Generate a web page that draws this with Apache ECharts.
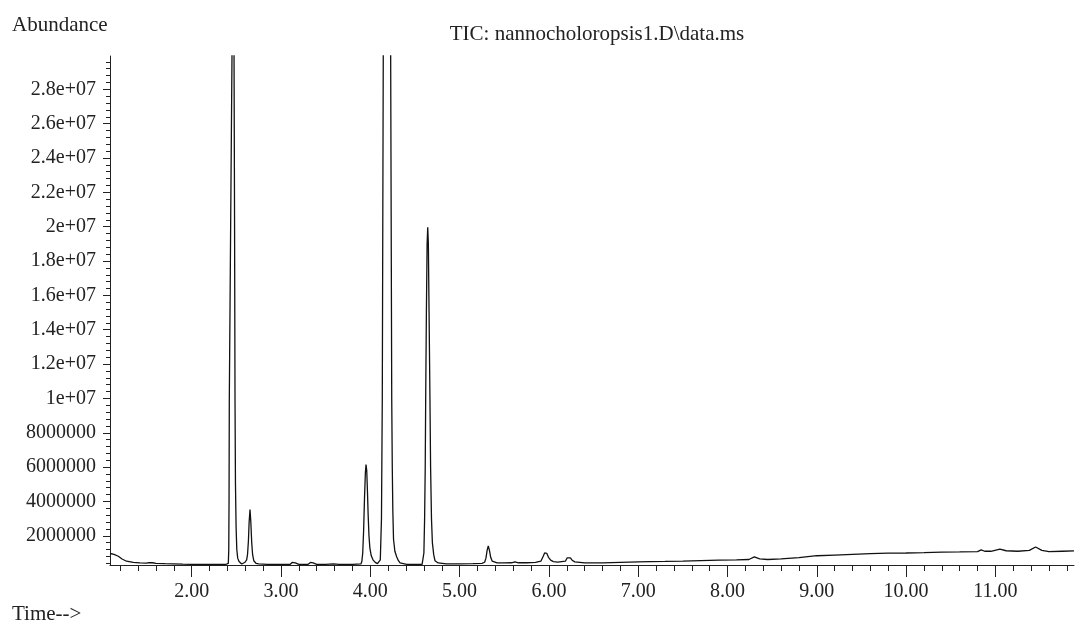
<!DOCTYPE html>
<html>
<head>
<meta charset="utf-8">
<script src="https://cdn.jsdelivr.net/npm/echarts@6/dist/echarts.min.js"></script>
<style>
html,body{margin:0;padding:0;background:#fff;}
#chart{width:1075px;height:624px;}
</style>
</head>
<body>
<div id="chart"></div>
<script>
// Retention time (min)
const times = [
 1.085,1.13,1.178,1.22,1.27,1.346,1.42,1.496,1.52,1.541,1.56,1.60,1.70,1.79,1.90,2.09,2.25,2.38,
 2.41,2.415,2.418,2.421,2.436,2.451,2.462,2.474,2.480,2.485,2.49,2.497,2.505,2.515,2.53,2.56,2.58,
 2.597,2.615,2.625,2.635,2.643,2.653,2.662,2.672,2.682,2.695,2.72,2.75,2.85,3.00,3.10,3.125,3.14,3.16,3.20,3.30,
 3.33,3.344,3.36,3.40,3.50,3.586,3.65,3.80,3.895,3.905,3.915,3.925,3.935,3.945,3.952,3.96,3.968,3.976,
 3.985,3.995,4.01,4.03,4.055,4.08,
 4.10,4.112,4.125,4.134,4.145,4.16,4.187,4.215,4.228,4.240,4.246,4.252,4.26,4.275,4.296,4.315,
 4.333,4.408,4.50,4.58,4.594,4.60,4.608,4.615,4.620,4.628,4.636,4.643,4.65,4.658,4.668,4.675,4.685,
 4.695,4.71,4.724,4.76,4.85,5.00,5.15,5.25,
 5.28,5.295,5.308,5.321,5.334,5.348,5.365,5.385,5.42,5.50,5.58,5.62,5.66,5.75,5.85,5.91,5.935,5.952,
 5.964,5.976,5.995,6.02,6.05,6.10,6.185,6.205,6.222,6.24,6.26,6.29,6.40,6.60,6.80,7.00,7.13,7.30,
 7.50,7.70,7.90,8.10,8.24,8.30,8.36,8.45,8.60,8.80,9.00,9.20,9.40,9.60,9.80,10.00,10.20,10.40,
 10.60,10.80,10.84,10.88,10.95,11.05,11.12,11.25,11.38,11.45,11.52,11.60,11.75,11.88
];
// Abundance, in millions of counts
const abundance = [
 0.97,0.92,0.81,0.65,0.52,0.45,0.42,0.41,0.44,0.48,0.43,0.40,0.38,0.37,0.35,0.33,0.33,0.33,
 0.40,1.2,4,9.9,20,29.9,38,29.9,20,9.9,5,2.5,1.2,0.7,0.5,0.36,0.36,
 0.46,0.6,0.9,1.7,2.8,3.53,2.8,1.6,0.9,0.55,0.40,0.36,0.34,0.33,0.33,0.45,0.52,0.42,0.34,0.33,
 0.45,0.52,0.42,0.34,0.34,0.37,0.34,0.34,0.36,0.5,1.0,2.3,4.2,5.7,6.15,5.8,4.6,3.2,
 2.0,1.3,0.85,0.6,0.45,0.38,
 0.36,0.6,3,9.9,29.9,60,100,60,29.9,9.9,6,3.5,1.8,1.1,0.77,0.55,
 0.42,0.34,0.33,0.34,0.45,1.0,3,6,9.9,15,19,19.96,19,15,9.9,6,3,
 1.6,0.9,0.55,0.42,0.36,0.36,0.38,0.40,
 0.46,0.7,1.15,1.41,1.15,0.75,0.52,0.45,0.42,0.42,0.43,0.48,0.43,0.43,0.45,0.52,0.8,1.0,
 1.05,0.98,0.75,0.58,0.5,0.47,0.52,0.72,0.81,0.72,0.58,0.48,0.42,0.42,0.45,0.48,0.5,0.51,
 0.53,0.56,0.58,0.6,0.62,0.77,0.66,0.62,0.66,0.73,0.84,0.88,0.92,0.96,0.99,1.0,1.02,1.05,
 1.06,1.08,1.18,1.10,1.10,1.22,1.13,1.1,1.15,1.35,1.15,1.08,1.10,1.12
];
// Axis ticks and labels
const xTickValues = [2,3,4,5,6,7,8,9,10,11];
const xTickLabels = ['2.00','3.00','4.00','5.00','6.00','7.00','8.00','9.00','10.00','11.00'];
const yTickValues = [2,4,6,8,10,12,14,16,18,20,22,24,26,28];
const yTickLabels = ['2000000','4000000','6000000','8000000','1e+07','1.2e+07','1.4e+07','1.6e+07',
  '1.8e+07','2e+07','2.2e+07','2.4e+07','2.6e+07','2.8e+07'];
const xMinorTicks = [];
for (let i = 6; i <= 59; i++) { if (i % 5 !== 0) xMinorTicks.push(+(i * 0.2).toFixed(1)); }
const yMinorTicks = [];
for (let i = 1; i <= 74; i++) { if (i % 5 !== 0) yMinorTicks.push(+(i * 0.4).toFixed(1)); }

const X_MIN = 1.085, X_MAX = 11.88, Y_MIN = 0.3, Y_MAX = 29.94;
const FONT = '"Liberation Serif", "DejaVu Serif", serif';

const chart = echarts.init(document.getElementById('chart'), null, {renderer: 'canvas'});
const lbl = (vals, labs) => v => { const i = vals.findIndex(t => Math.abs(t - v) < 1e-6); return i >= 0 ? labs[i] : ''; };

chart.setOption({
  animation: false,
  backgroundColor: '#fff',
  grid: {left: 110, right: 1, top: 56, bottom: 59, containLabel: false},
  graphic: [
    {type: 'text', left: 12, top: 15, style: {text: 'Abundance', font: '21px ' + FONT, fill: '#222'}},
    {type: 'text', left: 12, top: 604, style: {text: 'Time-->', font: '21px ' + FONT, fill: '#222'}},
    {type: 'text', x: 597, y: 34, style: {text: 'TIC: nannocholoropsis1.D\\data.ms', font: '21px ' + FONT, fill: '#222', align: 'center', verticalAlign: 'middle'}}
  ],
  xAxis: [{
    type: 'value', min: X_MIN, max: X_MAX, position: 'bottom',
    axisLine: {show: true, onZero: false, lineStyle: {color: '#222', width: 1}},
    axisTick: {show: true, customValues: xTickValues, length: 12, lineStyle: {color: '#222', width: 1}},
    axisLabel: {show: true, customValues: xTickValues, formatter: lbl(xTickValues, xTickLabels), margin: 17,
      color: '#222', fontFamily: FONT, fontSize: 20},
    splitLine: {show: false}
  }, {
    type: 'value', min: X_MIN, max: X_MAX, position: 'bottom', offset: 0,
    axisLine: {show: false},
    axisTick: {show: true, customValues: xMinorTicks, length: 6, lineStyle: {color: '#222', width: 1}},
    axisLabel: {show: false},
    splitLine: {show: false}
  }],
  yAxis: [{
    type: 'value', min: Y_MIN, max: Y_MAX, position: 'left',
    axisLine: {show: true, onZero: false, lineStyle: {color: '#222', width: 1}},
    axisTick: {show: true, customValues: yTickValues, length: 7, lineStyle: {color: '#222', width: 1}},
    axisLabel: {show: true, customValues: yTickValues, formatter: lbl(yTickValues, yTickLabels), margin: 14,
      color: '#222', fontFamily: FONT, fontSize: 20},
    splitLine: {show: false}
  }, {
    type: 'value', min: Y_MIN, max: Y_MAX, position: 'left', offset: 0,
    axisLine: {show: false},
    axisTick: {show: true, customValues: yMinorTicks, length: 4, lineStyle: {color: '#222', width: 1}},
    axisLabel: {show: false},
    splitLine: {show: false}
  }],
  series: [{
    type: 'line', xAxisIndex: 0, yAxisIndex: 0,
    data: times.map((t, i) => [t, abundance[i]]),
    showSymbol: false, symbol: 'none', clip: true,
    lineStyle: {color: '#111', width: 1.3},
    smooth: false
  }]
});
</script>
</body>
</html>
